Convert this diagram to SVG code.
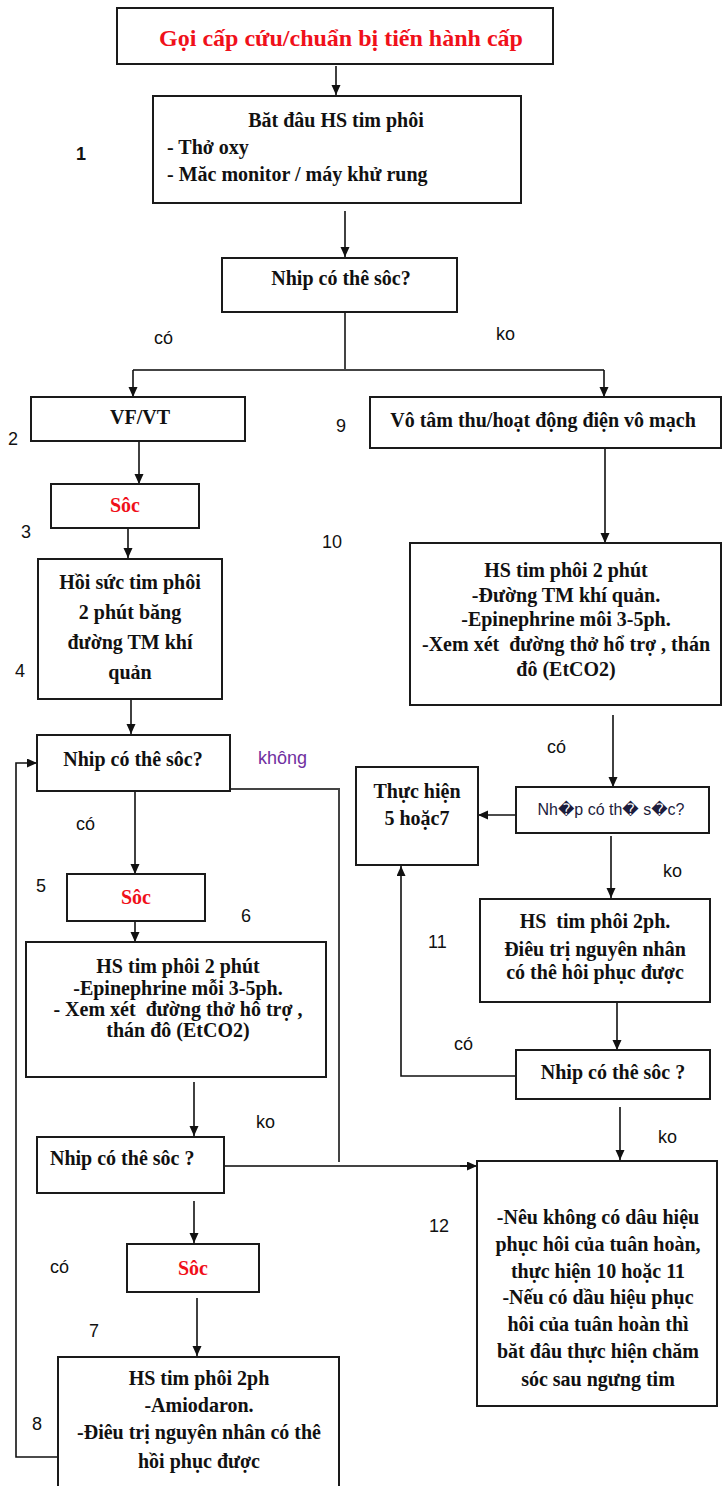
<svg xmlns="http://www.w3.org/2000/svg" width="722" height="1486" viewBox="0 0 722 1486">
<style>
.box{fill:#fff;stroke:#1a1a1a;stroke-width:2}
.t{font-family:"Liberation Serif","Times New Roman",serif;font-weight:bold;font-size:20px;fill:#111;text-anchor:middle;white-space:pre}
.tl{text-anchor:start}
.red{fill:#f0101a}
.title{font-size:24px}
.lab{font-family:"Liberation Sans",Arial,sans-serif;font-size:18px;fill:#111}
.pur{fill:#7030a0}
.sans{font-family:"Liberation Sans",Arial,"DejaVu Sans",sans-serif;font-weight:normal;font-size:16px;fill:#1c1c3c}
.c{fill:none;stroke:#111;stroke-width:1.6}
.g{fill:none;stroke:#444;stroke-width:2}
</style>
<defs>
<marker id="ah" markerUnits="userSpaceOnUse" markerWidth="10" markerHeight="10" refX="10" refY="4.5" orient="auto">
<path d="M0,0 L10,4.5 L0,9 z" fill="#111"/>
</marker>
</defs>
<rect width="722" height="1486" fill="#fff"/>

<g id="connectors">
<line class="c" x1="336" y1="66" x2="336" y2="95" marker-end="url(#ah)"/>
<line class="c" x1="345" y1="211" x2="345" y2="257" marker-end="url(#ah)"/>
<polyline class="g" points="345,312 345,370"/>
<line class="g" x1="133" y1="370" x2="604" y2="370"/>
<line class="c" x1="133" y1="370" x2="133" y2="397" marker-end="url(#ah)"/>
<line class="c" x1="604" y1="370" x2="604" y2="397" marker-end="url(#ah)"/>
<line class="c" x1="139" y1="442" x2="139" y2="484" marker-end="url(#ah)"/>
<line class="c" x1="128" y1="528" x2="128" y2="558" marker-end="url(#ah)"/>
<line class="c" x1="131" y1="700" x2="131" y2="734" marker-end="url(#ah)"/>
<line class="c" x1="605" y1="448" x2="605" y2="543" marker-end="url(#ah)"/>
<line class="c" x1="135" y1="791" x2="135" y2="874" marker-end="url(#ah)"/>
<line class="c" x1="135" y1="921" x2="135" y2="942" marker-end="url(#ah)"/>
<polyline class="g" points="230,789 339,789 339,1162"/>
<line class="c" x1="194" y1="1082" x2="194" y2="1136" marker-end="url(#ah)"/>
<line class="g" x1="224" y1="1166" x2="470" y2="1166"/>
<line class="c" x1="460" y1="1166" x2="477" y2="1166" marker-end="url(#ah)"/>
<line class="c" x1="194" y1="1201" x2="194" y2="1243" marker-end="url(#ah)"/>
<line class="c" x1="197" y1="1298" x2="197" y2="1356" marker-end="url(#ah)"/>
<polyline class="c" points="58,1457 16,1457 16,763 37,763" marker-end="url(#ah)"/>
<line class="c" x1="613" y1="715" x2="613" y2="787" marker-end="url(#ah)"/>
<line class="c" x1="516" y1="815" x2="478" y2="815" marker-end="url(#ah)"/>
<line class="c" x1="611" y1="836" x2="611" y2="898" marker-end="url(#ah)"/>
<line class="c" x1="617" y1="1003" x2="617" y2="1050" marker-end="url(#ah)"/>
<polyline class="c" points="516,1076 401,1076 401,866" marker-end="url(#ah)"/>
<line class="c" x1="620" y1="1107" x2="620" y2="1160" marker-end="url(#ah)"/>
</g>

<g id="n-title">
<rect class="box" x="117" y="8" width="436" height="56"/>
<text class="t red title" x="341" y="46">Gọi cấp cứu/chuẩn bị tiến hành cấp</text>
</g>

<g id="n-start">
<rect class="box" x="153" y="96" width="368" height="107"/>
<text class="t" x="336" y="127">Băt đâu HS tim phôi</text>
<text class="t tl" x="167" y="154">- Thở oxy</text>
<text class="t tl" x="167" y="181">- Măc monitor / máy khử rung</text>
</g>

<g id="n-dec1">
<rect class="box" x="222" y="258" width="235" height="54"/>
<text class="t" x="341" y="285">Nhip có thê sôc?</text>
</g>

<g id="n-vfvt">
<rect class="box" x="31" y="397" width="214" height="44"/>
<text class="t" x="140" y="424">VF/VT</text>
</g>

<g id="n-asys">
<rect class="box" x="370" y="397" width="351" height="51"/>
<text class="t" x="543" y="427">Vô tâm thu/hoạt động điện vô mạch</text>
</g>

<g id="n-soc1">
<rect class="box" x="51" y="484" width="148" height="44"/>
<text class="t red" x="125" y="512">Sôc</text>
</g>

<g id="n-cpr1">
<rect class="box" x="38" y="559" width="184" height="140"/>
<text class="t" x="130" y="589">Hồi sức tim phôi</text>
<text class="t" x="130" y="619">2 phút băng</text>
<text class="t" x="130" y="649">đường TM khí</text>
<text class="t" x="130" y="679">quản</text>
</g>

<g id="n-cpr10">
<rect class="box" x="410" y="543" width="311" height="162"/>
<text class="t" x="566" y="577">HS tim phôi 2 phút</text>
<text class="t" x="566" y="602">-Đường TM khí quản.</text>
<text class="t" x="566" y="626">-Epinephrine môi 3-5ph.</text>
<text class="t" x="566" y="651">-Xem xét  đường thở hổ trợ , thán</text>
<text class="t" x="566" y="676">đô (EtCO2)</text>
</g>

<g id="n-dec5">
<rect class="box" x="37" y="735" width="193" height="56"/>
<text class="t" x="133" y="766">Nhip có thê sôc?</text>
</g>

<g id="n-soc2">
<rect class="box" x="67" y="874" width="138" height="47"/>
<text class="t red" x="136" y="904">Sôc</text>
</g>

<g id="n-cpr6">
<rect class="box" x="26" y="942" width="300" height="135"/>
<text class="t" x="178" y="973">HS tim phôi 2 phút</text>
<text class="t" x="178" y="995">-Epinephrine mỗi 3-5ph.</text>
<text class="t" x="178" y="1016">- Xem xét  đường thở hô trợ ,</text>
<text class="t" x="178" y="1037">thán đô (EtCO2)</text>
</g>

<g id="n-dec7">
<rect class="box" x="37" y="1137" width="187" height="56"/>
<text class="t tl" x="50" y="1165">Nhip có thê sôc ?</text>
</g>

<g id="n-soc3">
<rect class="box" x="127" y="1244" width="132" height="48"/>
<text class="t red" x="193" y="1275">Sôc</text>
</g>

<g id="n-cpr8">
<rect class="box" x="58" y="1357" width="281" height="140"/>
<text class="t" x="199" y="1385">HS tim phôi 2ph</text>
<text class="t" x="199" y="1412">-Amiodaron.</text>
<text class="t" x="199" y="1439">-Điêu trị nguyên nhân có thê</text>
<text class="t" x="199" y="1468">hồi phục được</text>
</g>

<g id="n-do57">
<rect class="box" x="356" y="767" width="122" height="98"/>
<text class="t" x="417" y="798">Thực hiện</text>
<text class="t" x="417" y="825">5 hoặc7</text>
</g>

<g id="n-decR1">
<rect class="box" x="516" y="787" width="193" height="46"/>
<text class="t sans" x="611" y="815">Nh�p có th� s�c?</text>
</g>

<g id="n-cpr11">
<rect class="box" x="480" y="899" width="230" height="103"/>
<text class="t" x="595" y="928">HS  tim phôi 2ph.</text>
<text class="t" x="595" y="956">Điêu trị nguyên nhân</text>
<text class="t" x="595" y="979">có thê hôi phục được</text>
</g>

<g id="n-decR2">
<rect class="box" x="516" y="1050" width="194" height="49"/>
<text class="t" x="613" y="1079">Nhip có thê sôc ?</text>
</g>

<g id="n-end">
<rect class="box" x="477" y="1161" width="240" height="245"/>
<text class="t" x="598" y="1224">-Nêu không có dâu hiệu</text>
<text class="t" x="598" y="1251">phục hôi của tuân hoàn,</text>
<text class="t" x="598" y="1278">thực hiện 10 hoặc 11</text>
<text class="t" x="598" y="1304">-Nếu có dầu hiệu phục</text>
<text class="t" x="598" y="1331">hôi của tuân hoàn thì</text>
<text class="t" x="598" y="1358">băt đâu thực hiện chăm</text>
<text class="t" x="598" y="1386">sóc sau ngưng tim</text>
</g>

<g id="labels">
<text class="lab" x="76" y="160" font-weight="bold">1</text>
<text class="lab" x="154" y="344">có</text>
<text class="lab" x="496" y="340">ko</text>
<text class="lab" x="8" y="445">2</text>
<text class="lab" x="336" y="432">9</text>
<text class="lab" x="21" y="538">3</text>
<text class="lab" x="322" y="548">10</text>
<text class="lab" x="15" y="677">4</text>
<text class="lab pur" x="258" y="764">không</text>
<text class="lab" x="76" y="830">có</text>
<text class="lab" x="36" y="892">5</text>
<text class="lab" x="241" y="922">6</text>
<text class="lab" x="547" y="753">có</text>
<text class="lab" x="663" y="877">ko</text>
<text class="lab" x="428" y="948">11</text>
<text class="lab" x="454" y="1050">có</text>
<text class="lab" x="256" y="1128">ko</text>
<text class="lab" x="658" y="1143">ko</text>
<text class="lab" x="429" y="1232">12</text>
<text class="lab" x="50" y="1273">có</text>
<text class="lab" x="89" y="1337">7</text>
<text class="lab" x="32" y="1430">8</text>
</g>
</svg>
